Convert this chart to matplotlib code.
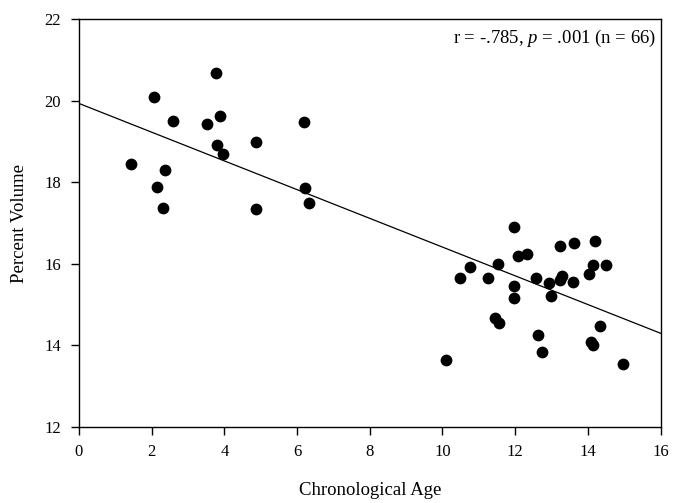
import matplotlib
matplotlib.use("Agg")
import matplotlib.pyplot as plt
import numpy as np

# data
age = [1.43, 2.06, 2.59, 3.51, 3.77, 3.89, 6.20, 3.80, 3.95, 4.86, 2.36, 2.15, 2.32, 4.86, 6.22, 6.32,
       11.96, 14.21, 13.61, 13.24, 12.32, 12.08, 11.53, 14.49, 14.14, 10.77, 14.02, 10.48, 11.24, 12.57,
       13.30, 13.24, 12.93, 13.59, 11.96, 11.96, 12.98, 11.44, 11.55, 14.34, 12.63, 14.10, 14.14, 12.74,
       10.09, 14.97]
volume = [18.45, 20.09, 19.51, 19.43, 20.67, 19.63, 19.47, 18.90, 18.69, 18.98, 18.29, 17.89, 17.36, 17.34, 17.85, 17.50,
          16.91, 16.57, 16.51, 16.43, 16.25, 16.20, 16.00, 15.98, 15.96, 15.92, 15.75, 15.66, 15.66, 15.65,
          15.69, 15.61, 15.54, 15.55, 15.46, 15.16, 15.21, 14.68, 14.55, 14.47, 14.26, 14.09, 14.00, 13.85,
          13.63, 13.54]
fit_intercept = 19.93
fit_slope = -0.352
x_ticks = [0, 2, 4, 6, 8, 10, 12, 14, 16]
y_ticks = [12, 14, 16, 18, 20, 22]

plt.rcParams['font.family'] = ['Liberation Serif', 'DejaVu Serif']
plt.rcParams['mathtext.fontset'] = 'custom'
plt.rcParams['mathtext.rm'] = 'Liberation Serif'
plt.rcParams['mathtext.it'] = 'Liberation Serif:italic'

fig = plt.figure(figsize=(6.74, 5.03), dpi=100)
ax = fig.add_axes([0.1172, 0.1511, 0.8628, 0.8111])

ax.scatter(age, volume, s=72, color='black', zorder=3, linewidths=0)
xs = np.array([0, 16])
ax.plot(xs, fit_intercept + fit_slope * xs, color='black', linewidth=0.9)

ax.set_xlim(0, 16)
ax.set_ylim(12, 22)
ax.set_xticks(x_ticks)
ax.set_yticks(y_ticks)
ax.tick_params(direction='out', length=6, width=1, labelsize=12)
ax.tick_params(axis='y', pad=7)
ax.tick_params(axis='x', pad=6)
for s in ax.spines.values():
    s.set_linewidth(1)

ax.set_xlabel('Chronological Age', fontsize=13.5, labelpad=16)
ax.set_ylabel('Percent Volume', fontsize=13.5, labelpad=12)

ax.text(0.992, 0.953, r'r = -.785, $\it{p}$ = .001 (n = 66)', transform=ax.transAxes,
        ha='right', va='center', fontsize=13.5)

fig.savefig('out.png', dpi=100)
